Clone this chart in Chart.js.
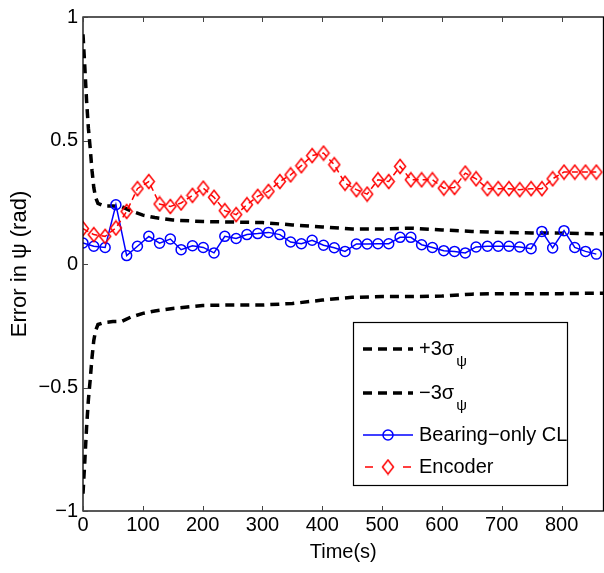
<!DOCTYPE html>
<html>
<head>
<meta charset="utf-8">
<script src="https://cdn.jsdelivr.net/npm/chart.js@4.4.1/dist/chart.umd.min.js"></script>
<style>
  html, body { margin: 0; padding: 0; background: #fff; overflow: hidden; }
  #wrap { width: 604px; height: 573px; overflow: hidden; }
</style>
</head>
<body>
<div id="wrap"><canvas id="myChart" width="610" height="573"></canvas></div>
<script>
'use strict';
// sample times (s) for both estimators
let times = [0, 18, 37, 55, 73, 91, 110, 128, 146, 164, 183, 201, 219, 237, 256, 274,
    292, 310, 329, 347, 365, 383, 402, 420, 438, 457, 475, 493, 511, 530, 548, 566,
    584, 603, 621, 639, 657, 676, 694, 712, 730, 749, 767, 785, 804, 822, 840, 858];

// heading error of the bearing-only cooperative localisation (rad)
let bearingErr = [0.085, 0.072, 0.067, 0.240, 0.034, 0.072, 0.112, 0.084, 0.101, 0.058,
    0.074, 0.067, 0.045, 0.112, 0.103, 0.119, 0.123, 0.128, 0.119, 0.089, 0.082, 0.096,
    0.076, 0.066, 0.051, 0.081, 0.081, 0.082, 0.082, 0.108, 0.108, 0.078, 0.067, 0.054,
    0.051, 0.045, 0.069, 0.072, 0.072, 0.072, 0.069, 0.062, 0.132, 0.065, 0.135, 0.067,
    0.051, 0.040];

// heading error of plain encoder odometry (rad)
let encoderErr = [0.143, 0.119, 0.112, 0.146, 0.213, 0.305, 0.334, 0.243, 0.233, 0.247,
    0.278, 0.307, 0.270, 0.216, 0.200, 0.240, 0.274, 0.294, 0.334, 0.361, 0.398, 0.439,
    0.449, 0.402, 0.327, 0.301, 0.283, 0.341, 0.334, 0.395, 0.341, 0.341, 0.341, 0.307,
    0.310, 0.368, 0.345, 0.305, 0.305, 0.305, 0.301, 0.305, 0.305, 0.345, 0.372, 0.372,
    0.372, 0.372];

// 3-sigma bounds of the filter
let sigmaTimes = [0, 3, 6, 9, 12, 15, 18, 21, 25, 35, 50, 65, 80, 100, 120, 150, 200,
    250, 300, 350, 400, 450, 500, 550, 600, 650, 700, 750, 800, 870];
let plus3Sigma = [0.93, 0.80, 0.66, 0.55, 0.47, 0.38, 0.31, 0.27, 0.245, 0.235, 0.235,
    0.232, 0.215, 0.198, 0.188, 0.178, 0.172, 0.170, 0.168, 0.158, 0.150, 0.142, 0.142,
    0.145, 0.138, 0.132, 0.128, 0.126, 0.125, 0.122];
let minus3Sigma = [-0.93, -0.80, -0.66, -0.55, -0.47, -0.38, -0.31, -0.27, -0.245, -0.237,
    -0.233, -0.232, -0.215, -0.200, -0.190, -0.180, -0.168, -0.166, -0.166, -0.160, -0.146,
    -0.135, -0.132, -0.132, -0.130, -0.122, -0.120, -0.120, -0.120, -0.118];

let xTicks = [0, 100, 200, 300, 400, 500, 600, 700, 800];
let yTicks = [-1, -0.5, 0, 0.5, 1];

const FONT = "'Liberation Sans', Arial, Helvetica, sans-serif";

function pts(xs, ys) {
    return xs.map((x, i) => ({ x: x, y: ys[i] }));
}
function minus(v) {
    return String(v).replace('-', '\u2212');
}

// matlab style diamond marker (a little taller than wide)
function makeDiamond() {
    let c = document.createElement('canvas');
    c.width = 14; c.height = 17;
    let g = c.getContext('2d');
    g.strokeStyle = '#ff0000';
    g.lineWidth = 1.5;
    g.beginPath();
    g.moveTo(7, 1.5); g.lineTo(12.5, 8.5); g.lineTo(7, 15.5); g.lineTo(1.5, 8.5);
    g.closePath();
    g.stroke();
    return c;
}
let diamond = makeDiamond();

// box, inward ticks and the legend
const axesBox = {
    id: 'axesBox',
    afterDraw(chart) {
        const ctx = chart.ctx;
        const a = chart.chartArea;
        const xs = chart.scales.x, ys = chart.scales.y;
        ctx.save();
        ctx.strokeStyle = '#000';
        ctx.lineWidth = 1.3;
        ctx.strokeRect(a.left, a.top, a.right - a.left, a.bottom - a.top);
        ctx.strokeStyle = '#444';
        ctx.lineWidth = 1;
        ctx.beginPath();
        xTicks.forEach(v => {
            let px = Math.round(xs.getPixelForValue(v)) + 0.5;
            ctx.moveTo(px, a.bottom); ctx.lineTo(px, a.bottom - 5);
            ctx.moveTo(px, a.top); ctx.lineTo(px, a.top + 5);
        });
        yTicks.forEach(v => {
            let py = Math.round(ys.getPixelForValue(v)) + 0.5;
            ctx.moveTo(a.left, py); ctx.lineTo(a.left + 5, py);
        });
        ctx.stroke();

        // legend
        let L = { x: 353.5, y: 322.5, w: 214, h: 163 };
        ctx.fillStyle = '#fff';
        ctx.fillRect(L.x, L.y, L.w, L.h);
        ctx.strokeStyle = '#000';
        ctx.lineWidth = 1.2;
        ctx.strokeRect(L.x, L.y, L.w, L.h);

        let x0 = 363, x1 = 413, tx = 419;
        ctx.textBaseline = 'middle';
        ctx.textAlign = 'left';

        // sigma entries
        [['+3\u03c3', 349], ['\u22123\u03c3', 393]].forEach(([label, y]) => {
            ctx.strokeStyle = '#000';
            ctx.lineWidth = 3.5;
            ctx.setLineDash([9, 6]);
            ctx.beginPath(); ctx.moveTo(x0, y); ctx.lineTo(x1, y); ctx.stroke();
            ctx.setLineDash([]);
            ctx.fillStyle = '#000';
            ctx.font = '20px ' + FONT;
            ctx.fillText(label, tx, y);
            let w = ctx.measureText(label).width;
            ctx.font = '15px ' + FONT;
            ctx.fillText('\u03c8', tx + w + 2, y + 13);
        });

        // bearing-only entry
        let yb = 435;
        ctx.strokeStyle = '#0000ff';
        ctx.lineWidth = 1.5;
        ctx.beginPath(); ctx.moveTo(x0, yb); ctx.lineTo(x1, yb); ctx.stroke();
        ctx.beginPath(); ctx.arc(388, yb, 5, 0, Math.PI * 2); ctx.stroke();
        ctx.fillStyle = '#000';
        ctx.font = '20px ' + FONT;
        ctx.fillText('Bearing\u2212only CL', tx, yb);

        // encoder entry
        let ye = 467;
        ctx.strokeStyle = '#ff0000';
        ctx.lineWidth = 1.5;
        ctx.beginPath();
        ctx.moveTo(x0 + 2, ye); ctx.lineTo(x0 + 10, ye);
        ctx.moveTo(x1 - 10, ye); ctx.lineTo(x1 - 2, ye);
        ctx.stroke();
        ctx.drawImage(diamond, 388 - 7, ye - 8.5);
        ctx.fillText('Encoder', tx, ye);
        ctx.restore();
    }
};

let ctx = document.getElementById('myChart').getContext('2d');
let myChart = new Chart(ctx, {
    type: 'line',
    data: {
        datasets: [{
            label: '+3\u03c3\u03c8',
            data: pts(sigmaTimes, plus3Sigma),
            borderColor: '#000',
            borderWidth: 3.5,
            borderDash: [9, 6],
            pointRadius: 0,
            order: 3
        }, {
            label: '\u22123\u03c3\u03c8',
            data: pts(sigmaTimes, minus3Sigma),
            borderColor: '#000',
            borderWidth: 3.5,
            borderDash: [9, 6],
            pointRadius: 0,
            order: 3
        }, {
            label: 'Bearing\u2212only CL',
            data: pts(times, bearingErr),
            borderColor: '#0000ff',
            borderWidth: 1.5,
            pointStyle: 'circle',
            pointRadius: 5,
            pointBorderWidth: 1.5,
            pointBorderColor: '#0000ff',
            pointBackgroundColor: 'rgba(0,0,0,0)',
            order: 2
        }, {
            label: 'Encoder',
            data: pts(times, encoderErr),
            borderColor: '#ff0000',
            borderWidth: 1.5,
            borderDash: [6, 4],
            pointStyle: diamond,
            order: 1
        }]
    },
    options: {
        responsive: false,
        animation: false,
        devicePixelRatio: 1,
        parsing: false,
        layout: { padding: { left: 0, top: 17, right: 5, bottom: 0 } },
        plugins: { legend: { display: false }, tooltip: { enabled: false } },
        scales: {
            x: {
                type: 'linear',
                min: 0,
                max: 870,
                afterFit: s => { s.height = 62; },
                afterBuildTicks: s => { s.ticks = xTicks.map(v => ({ value: v })); },
                grid: { display: false, drawTicks: false },
                border: { display: false },
                ticks: { color: '#000', padding: 2, font: { family: FONT, size: 20 }, maxRotation: 0 },
                title: { display: true, text: 'Time(s)', color: '#000', font: { family: FONT, size: 20 }, padding: { top: 0, bottom: 9 } }
            },
            y: {
                type: 'linear',
                min: -1,
                max: 1,
                afterFit: s => { s.width = 83; },
                afterBuildTicks: s => { s.ticks = yTicks.map(v => ({ value: v })); },
                grid: { display: false, drawTicks: false },
                border: { display: false },
                ticks: { color: '#000', padding: 5, font: { family: FONT, size: 20 }, callback: v => minus(v) },
                title: { display: true, text: 'Error in \u03c8 (rad)', color: '#000', font: { family: FONT, size: 22 }, padding: { top: 7, bottom: 0 } }
            }
        }
    },
    plugins: [axesBox]
});
</script>
</body>
</html>
